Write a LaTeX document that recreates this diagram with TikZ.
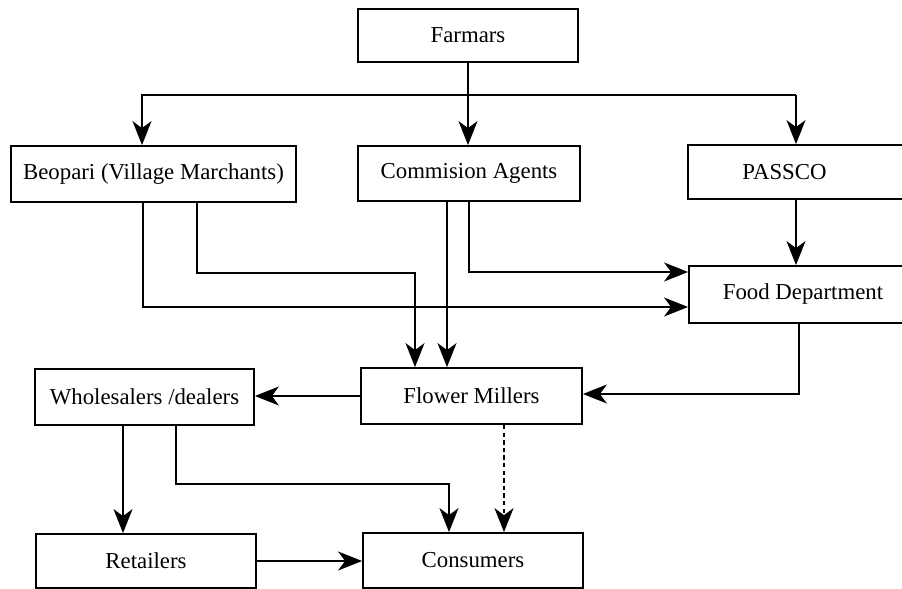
\documentclass[tikz,border=0pt]{standalone}
\usepackage{fontspec}
\setmainfont{Liberation Serif}
\usetikzlibrary{arrows.meta}
\begin{document}
\begin{tikzpicture}[x=0.5pt,y=-0.5pt,
  box/.style={draw,line width=0.9pt,rectangle,inner sep=0pt,font=\fontsize{11.4}{13}\selectfont},
  arr/.style={line width=0.85pt,-{Stealth[length=12pt,width=9.5pt,inset=3.5pt]}},
  dasharr/.style={arr,dash pattern=on 2.2pt off 1.6pt}]
\useasboundingbox (0,0) rectangle (902,589);
\clip (0,0) rectangle (902,589);
\fill[white] (0,0) rectangle (902,589);
% nodes
\node[box,minimum width=110pt,minimum height=26.5pt] (farm) at (468,35.5) {Farmars};
\node[box,minimum width=142.5pt,minimum height=28pt] (beo) at (153.5,174) {Beopari (Village Marchants)};
\node[box,minimum width=111pt,minimum height=27.5pt] (comm) at (469,173.5) {Commision Agents};
\node[box,minimum width=114.5pt,minimum height=27pt] (pas) at (802.5,172) {PASSCO\hspace*{18pt}};
\node[box,minimum width=114pt,minimum height=28.5pt] (food) at (803,294.5) {Food Department};
\node[box,minimum width=110.5pt,minimum height=28pt] (flo) at (471.5,396) {Flower Millers};
\node[box,minimum width=109.5pt,minimum height=28pt] (who) at (144.5,397) {Wholesalers /dealers};
\node[box,minimum width=110pt,minimum height=27pt] (ret) at (146,561) {Retailers};
\node[box,minimum width=110pt,minimum height=27.5pt] (con) at (473,560.5) {Consumers};
% helper coordinates
\coordinate (hl) at (142,95);
\coordinate (hr) at (796,95);
\coordinate (c1) at (197,273);
\coordinate (c2) at (415,273);
\coordinate (c3) at (143,307);
\coordinate (c4) at (447,0);
\coordinate (c5) at (469,272);
\coordinate (c7) at (799,394);
\coordinate (c8) at (504,0);
\coordinate (c9) at (123,0);
\coordinate (c10) at (176,484);
\coordinate (c11) at (449,484);
% connectors
\draw[arr] (farm.south) -- (farm.south |- comm.north);
\draw[arr] (hr) -- (hl) -- (hl |- beo.north);
\draw[arr] (hr) -- (hr |- pas.north);
\draw[arr] (c1 |- beo.south) -- (c1) -- (c2) -- (c2 |- flo.north);
\draw[arr] (c3 |- beo.south) -- (c3) -- (c3 -| food.west);
\draw[arr] (c4 |- comm.south) -- (c4 |- flo.north);
\draw[arr] (c5 |- comm.south) -- (c5) -- (c5 -| food.west);
\draw[arr] (hr |- pas.south) -- (hr |- food.north);
\draw[arr] (c7 |- food.south) -- (c7) -- (c7 -| flo.east);
\draw[arr] (flo.west) -- (flo.west -| who.east);
\draw[dasharr] (c8 |- flo.south) -- (c8 |- con.north);
\draw[arr] (c9 |- who.south) -- (c9 |- ret.north);
\draw[arr] (c10 |- who.south) -- (c10) -- (c11) -- (c11 |- con.north);
\draw[arr] (ret.east) -- (ret.east -| con.west);
\end{tikzpicture}
\end{document}
